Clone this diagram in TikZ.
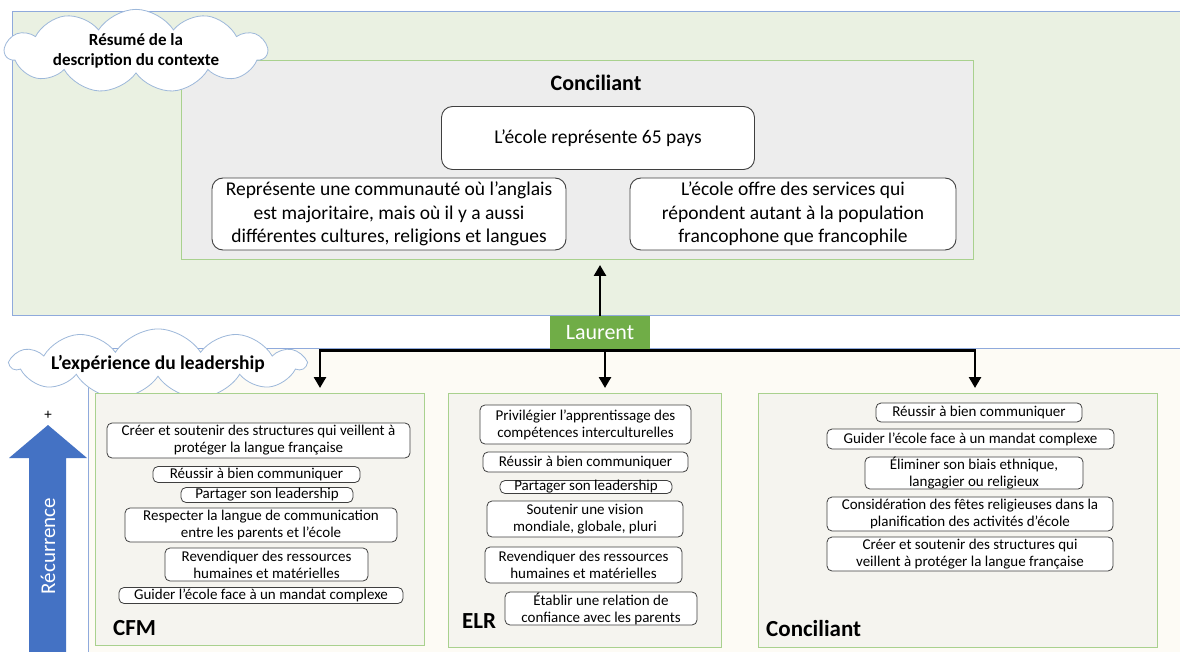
\documentclass[tikz,border=0pt]{standalone}
\usepackage{fontspec}
\setmainfont{Carlito}
\usetikzlibrary{shapes.symbols,arrows.meta}

\definecolor{topfill}{HTML}{EAF1E2}
\definecolor{panelblue}{HTML}{8FAADC}
\definecolor{grayfill}{HTML}{EDEDED}
\definecolor{boxgreen}{HTML}{A9D18E}
\definecolor{creamfill}{HTML}{FDFBF5}
\definecolor{colfill}{HTML}{F5F4EF}
\definecolor{laurentgreen}{HTML}{70AD47}
\definecolor{recblue}{HTML}{4472C4}
\definecolor{cloudline}{HTML}{9DB8DA}
\definecolor{itemline}{HTML}{3F3F3F}

\newcommand\fsz[2]{\fontsize{#1}{#2}\selectfont}

\begin{document}
\begin{tikzpicture}[x=1pt,y=-1pt,
  sz/.style 2 args={minimum width=#1pt,minimum height=#2pt},
  panel/.style={draw=panelblue,line width=0.8pt,anchor=north west,inner sep=0pt},
  frame/.style={draw=boxgreen,line width=0.8pt,anchor=north west,inner sep=0pt},
  item/.style={draw=itemline,line width=0.8pt,rounded corners=5pt,fill=white,
    inner sep=0pt,align=center,font=\fsz{15}{17}},
  topitem/.style={draw=itemline,line width=0.9pt,rounded corners=11pt,fill=white,
    inner sep=0pt,align=center,font=\fsz{19.5}{23.5}},
  cloudbox/.style={cloud,cloud puffs=11,cloud puff arc=115,cloud ignores aspect,
    draw=cloudline,line width=0.8pt,fill=white,inner sep=0pt,align=center,
    font=\bfseries\fsz{17}{20}},
  collabel/.style={anchor=west,inner sep=0pt,font=\bfseries\fsz{23}{26}},
  conn/.style={line width=2.6pt,-{Triangle[width=12pt,length=11pt]}},
]
\useasboundingbox (0,0) rectangle (1180,652);
\clip (0,0) rectangle (1180,652);
\fill[white] (0,0) rectangle (1180,652);

% ---------- context summary panel ----------
\node[panel,fill=topfill,sz={1200}{304}] (toppanel) at (12,11) {};
\node[frame,fill=grayfill,sz={792}{199}] (graybox) at (181,60) {};
\node[font=\bfseries\fsz{22}{26}] (conchead) at (596,83) {Conciliant};
\node[topitem,sz={313}{63}] (pays) at (598,138) {L’école représente 65 pays};
\node[topitem,sz={354}{72}] (commu) at (389,214)
  {Représente une communauté où l’anglais\\est majoritaire, mais où il y a aussi\\différentes cultures, religions et langues};
\node[topitem,sz={326}{72}] (services) at (793,214)
  {L’école offre des services qui\\répondent autant à la population\\francophone que francophile};
\node[cloudbox,sz={262}{62}] (cloudA) at (136,51) {Résumé de la\\description du contexte};

% ---------- leadership experience panel ----------
\node[panel,fill=creamfill,sz={1200}{320}] (botpanel) at (88,348) {};
\node[cloudbox,sz={293}{62},font=\bfseries\fsz{19.5}{22}] (cloudB) at (158,364) {L’expérience du leadership};

\node[frame,fill=colfill,sz={329}{252}] (colcfm) at (95,393) {};
\node[frame,fill=colfill,sz={273}{254}] (colelr) at (448,393) {};
\node[frame,fill=colfill,sz={399}{254}] (colconc) at (758,393) {};

% CFM
\node[item,sz={303}{35}] (cfma) at (258.5,440.5) {Créer et soutenir des structures qui veillent à\\protéger la langue française};
\node[item,sz={207}{16}] (cfmb) at (256.5,474.5) {Réussir à bien communiquer};
\node[item,sz={172}{15}] (cfmc) at (267,495) {Partager son leadership};
\node[item,sz={272}{34}] (cfmd) at (261,525) {Respecter la langue de communication\\entre les parents et l’école};
\node[item,sz={203}{33}] (cfme) at (266.5,564.5) {Revendiquer des ressources\\humaines et matérielles};
\node[item,sz={284}{16}] (cfmf) at (261,595.5) {Guider l’école face à un mandat complexe};
\node[collabel] (cfmlab) at (113,628) {CFM};

% ELR
\node[item,sz={211}{39}] (elra) at (585.5,424.5) {Privilégier l’apprentissage des\\compétences interculturelles};
\node[item,sz={205}{20}] (elrb) at (585.5,462) {Réussir à bien communiquer};
\node[item,sz={172}{12}] (elrc) at (586,487) {Partager son leadership};
\node[item,sz={196}{36}] (elrd) at (585,519) {Soutenir une vision\\mondiale, globale, pluri};
\node[item,sz={197}{36}] (elre) at (583.5,565) {Revendiquer des ressources\\humaines et matérielles};
\node[item,sz={192}{33}] (elrf) at (601,608.5) {Établir une relation de\\confiance avec les parents};
\node[collabel] (elrlab) at (462,621) {ELR};

% Conciliant
\node[item,sz={206}{19}] (cona) at (979,412.5) {Réussir à bien communiquer};
\node[item,sz={287}{20}] (conb) at (970.5,439) {Guider l’école face à un mandat complexe};
\node[item,sz={218}{32}] (conc) at (974,473) {Éliminer son biais ethnique,\\langagier ou religieux};
\node[item,sz={286}{34}] (cond) at (970,514) {Considération des fêtes religieuses dans la\\planification des activités d’école};
\node[item,sz={286}{34}] (cone) at (970,554) {Créer et soutenir des structures qui\\veillent à protéger la langue française};
\node[collabel] (conlab) at (766,629) {Conciliant};

% ---------- Laurent and connectors ----------
\node[fill=laurentgreen,text=white,inner sep=0pt,sz={100}{34},font=\fsz{22}{26}] (laurent) at (600,333) {Laurent};
\coordinate (tipup) at (600,265);
\coordinate (tipl) at (320,388);
\coordinate (tipm) at (605,388);
\coordinate (tipr) at (975,388);
\draw[conn] (laurent.north) -- (tipup);
\draw[conn] (laurent.south) -| (tipl);
\draw[conn] (laurent.south) -| (tipr);
\draw[conn] (tipm |- laurent.south) -- (tipm);

% ---------- recurrence arrow ----------
\fill[recblue] (29,660) -- (29,458) -- (9,458) -- (48,425) -- (87,458) -- (66,458) -- (66,660) -- cycle;
\node[font=\fsz{15}{17},inner sep=0pt] (plus) at (48,415) {+};
\node[rotate=90,text=white,font=\fsz{21}{24},inner sep=0pt] (recur) at (48,546) {Récurrence};
\end{tikzpicture}
\end{document}
